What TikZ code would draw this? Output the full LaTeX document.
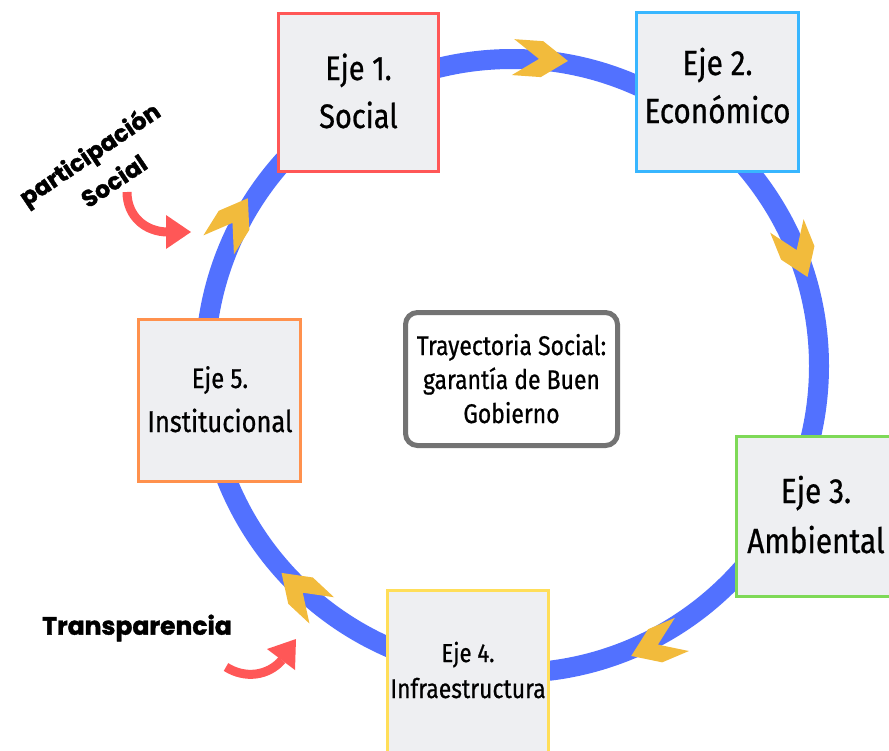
\documentclass[tikz,border=0pt]{standalone}
\usepackage{fontspec}
\newfontfamily\boxfont{Fira Sans}[FakeStretch=0.85,FakeBold=0.7]
\newfontfamily\heavyfont{Poppins}[UprightFont=*-Bold,FakeBold=1.6]
\definecolor{ringblue}{HTML}{5271FF}
\definecolor{chevyellow}{HTML}{F2BB3C}
\definecolor{arrowred}{HTML}{FF5757}
\definecolor{bred}{HTML}{FF5757}
\definecolor{bblue}{HTML}{38B6FF}
\definecolor{bgreen}{HTML}{7ED957}
\definecolor{byellow}{HTML}{FFDE59}
\definecolor{borange}{HTML}{FF914D}
\definecolor{bgray}{HTML}{737373}
\definecolor{boxfill}{HTML}{EEEFF2}
\tikzset{
  axisbox/.style={fill=boxfill, line width=3pt, inner sep=0pt},
  centerbox/.style={draw=bgray, fill=white, line width=5pt, rounded corners=12pt, inner sep=0pt, minimum width=212pt, minimum height=133pt},
  lbl/.style={anchor=base, inner sep=0pt, text=black},
  heavy/.style={inner sep=0pt, text=black, font=\heavyfont\fontsize{23.5}{36}\selectfont},
  redshaft/.style={draw=arrowred, line width=9pt},
  chev/.pic={\fill[chevyellow] (28,0) -- (2,18) -- (-27,18) -- (-1,0) -- (-27,-18) -- (2,-18) -- cycle;}
}
\begin{document}
\begin{tikzpicture}[x=1pt,y=-1pt]
\useasboundingbox (0,0) rectangle (889,750);
% ring
\coordinate (ringc) at (512,366);
\draw[ringblue, line width=20pt] (ringc) circle (307);
% chevrons
\pic[rotate=-4] (c1) at (540,59) {chev};
\pic[rotate=-68] (c2) at (797,251) {chev};
\pic[rotate=-157] (c3) at (657,645) {chev};
\pic[rotate=137] (c4) at (302,592) {chev};
\pic[rotate=58] (c5) at (233,222) {chev};
% boxes
\node[axisbox, draw=bred, minimum width=160pt, minimum height=158pt] (e1) at (358.5,92.5) {};
\node[axisbox, draw=bblue, minimum width=162pt, minimum height=159pt] (e2) at (717.5,92) {};
\node[axisbox, draw=bgreen, minimum width=162pt, minimum height=160pt] (e3) at (817.5,516.5) {};
\node[axisbox, draw=byellow, minimum width=161pt, minimum height=163pt] (e4) at (468,672) {};
\node[axisbox, draw=borange, minimum width=162pt, minimum height=162pt] (e5) at (219.5,400.5) {};
\node[centerbox] (ctr) at (511.5,379) {};
% box labels
\node[lbl, font=\boxfont\fontsize{34}{34}\selectfont] (e1a) at (358.5,80) {Eje 1.};
\node[lbl, font=\boxfont\fontsize{34}{34}\selectfont] (e1b) at (358.5,128) {Social};
\node[lbl, font=\boxfont\fontsize{35}{35}\selectfont] (e2a) at (717.5,75) {Eje 2.};
\node[lbl, font=\boxfont\fontsize{35}{35}\selectfont] (e2b) at (717.5,123) {Económico};
\node[lbl, font=\boxfont\fontsize{35}{35}\selectfont] (e3a) at (816,503) {Eje 3.};
\node[lbl, font=\boxfont\fontsize{35}{35}\selectfont] (e3b) at (816,553) {Ambiental};
\node[lbl, font=\boxfont\fontsize{26}{26}\selectfont] (e4a) at (468,662) {Eje 4.};
\node[lbl, font=\boxfont\fontsize{27}{27}\selectfont] (e4b) at (468,698) {Infraestructura};
\node[lbl, font=\boxfont\fontsize{28}{28}\selectfont] (e5a) at (220,388) {Eje 5.};
\node[lbl, font=\boxfont\fontsize{30}{30}\selectfont] (e5b) at (220,432) {Institucional};
\node[lbl, font=\boxfont\fontsize{27}{27}\selectfont] (ca) at (511.5,355) {Trayectoria Social:};
\node[lbl, font=\boxfont\fontsize{27}{27}\selectfont] (cb) at (511.5,389) {garantía de Buen};
\node[lbl, font=\boxfont\fontsize{27}{27}\selectfont] (cc) at (511.5,423) {Gobierno};
% side labels
\node[heavy, rotate=34, align=center] (tp) at (99,168) {participación\\\hspace*{10pt}Social};
\node[heavy, font=\heavyfont\fontsize{25}{25}\selectfont] (tt) at (137,628) {Transparencia};
% red arrows
\coordinate (a1s) at (127,192);
\coordinate (a1e) at (168,232);
\draw[redshaft] (a1s) .. controls (127,216) and (145,232) .. (a1e);
\fill[arrowred] (166,215) -- (191,232) -- (166,249) -- cycle;
\coordinate (a2s) at (226,667);
\coordinate (a2e) at (282,660);
\draw[redshaft] (a2s) .. controls (245,679) and (268,676) .. (a2e);
\fill[arrowred] (267,649) -- (296,639) -- (295,670) -- cycle;
\end{tikzpicture}
\end{document}
